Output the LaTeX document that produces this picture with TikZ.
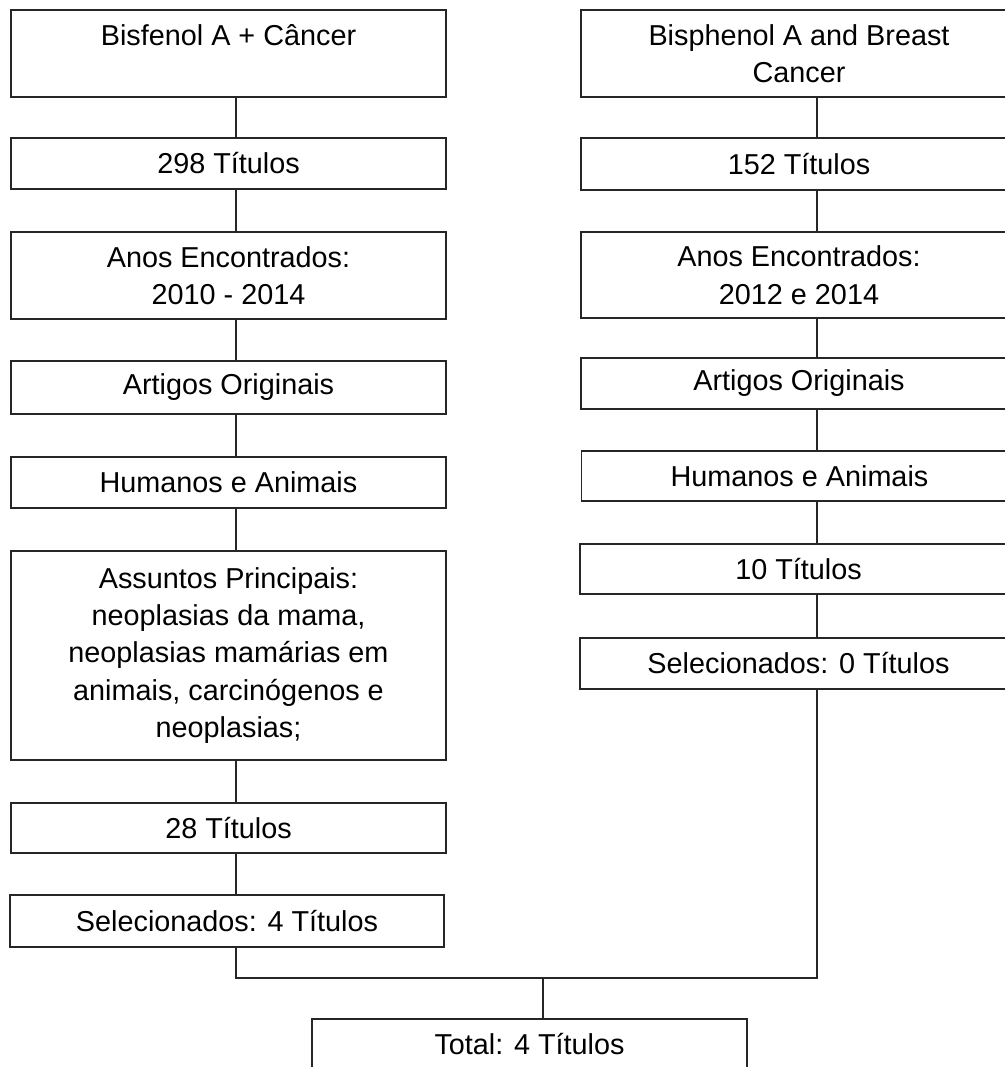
\documentclass[tikz,border=0pt]{standalone}
\usepackage{fontspec}
\setmainfont{Liberation Sans}

\tikzset{
  caixa/.style={draw=black!85, line width=1.3pt, rectangle, fill=white,
    align=center, inner sep=0pt, minimum width=326pt,
    font=\fontsize{21.6}{28.1}\selectfont},
  ligacao/.style={draw=black!85, line width=1.3pt},
}

\begin{document}
\begin{tikzpicture}[x=0.75pt, y=-0.75pt]

% =============================================
% AREA DA FIGURA (a caixa final sai pela borda)
% =============================================
\useasboundingbox (0,0) rectangle (1005,1067);
\clip (0,0) rectangle (1005,1067);
\fill[white] (0,0) rectangle (1005,1067);

% =============================================
% COLUNA ESQUERDA: Bisfenol A + Cancer
% =============================================
\node[caixa, minimum height=65.25pt] (esq1) at (228.5,53.5) {Bisfenol A + Câncer\\ \mbox{}};
\node[caixa, minimum height=38.25pt] (esq2) at (228.5,163.5) {298 Títulos};
\node[caixa, minimum height=65.25pt] (esq3) at (228.5,275.5) {Anos Encontrados:\\ 2010 - 2014};
\node[caixa, minimum height=39.75pt] (esq4) at (228.5,387.5) {Artigos Originais};
\node[caixa, minimum height=38.25pt] (esq5) at (228.5,482.5) {Humanos e Animais};
\node[caixa, minimum height=156.75pt] (esq6) at (228.5,655.5) {Assuntos Principais:\\ neoplasias da mama,\\ neoplasias mamárias em\\ animais, carcinógenos e\\ neoplasias;};
\node[caixa, minimum height=37.5pt] (esq7) at (228.5,828) {28 Títulos};
\node[caixa, minimum height=39pt] (esq8) at (227,921) {Selecionados: 4 Títulos};

% ligacoes da esquerda (um pouco a direita do centro)
\draw[ligacao] ([xshift=5.6pt]esq1.south) -- ([xshift=5.6pt]esq1.south |- esq2.north);
\draw[ligacao] ([xshift=5.6pt]esq2.south) -- ([xshift=5.6pt]esq2.south |- esq3.north);
\draw[ligacao] ([xshift=5.6pt]esq3.south) -- ([xshift=5.6pt]esq3.south |- esq4.north);
\draw[ligacao] ([xshift=5.6pt]esq4.south) -- ([xshift=5.6pt]esq4.south |- esq5.north);
\draw[ligacao] ([xshift=5.6pt]esq5.south) -- ([xshift=5.6pt]esq5.south |- esq6.north);
\draw[ligacao] ([xshift=5.6pt]esq6.south) -- ([xshift=5.6pt]esq6.south |- esq7.north);
\draw[ligacao] ([xshift=5.6pt]esq7.south) -- ([xshift=5.6pt]esq7.south |- esq8.north);

% =============================================
% COLUNA DIREITA: Bisphenol A and Breast Cancer
% =============================================
\node[caixa, minimum width=327pt, minimum height=65.25pt] (dir1) at (799,53.5) {Bisphenol A and Breast\\ Cancer};
\node[caixa, minimum width=327pt, minimum height=39pt] (dir2) at (799,164) {152 Títulos};
\node[caixa, minimum width=327pt, minimum height=64.5pt] (dir3) at (799,275) {Anos Encontrados:\\ 2012 e 2014};
\node[caixa, minimum width=327pt, minimum height=38.25pt] (dir4) at (799,383.5) {Artigos Originais};
\node[caixa, minimum width=327pt, minimum height=37.5pt] (dir5) at (799.5,476) {Humanos e Animais};
\node[caixa, minimum width=328pt, minimum height=37.5pt] (dir6) at (798.5,569) {10 Títulos};
\node[caixa, minimum width=328pt, minimum height=38.25pt] (dir7) at (798.5,663.5) {Selecionados: 0 Títulos};

% ligacoes da direita
\draw[ligacao] ([xshift=13.5pt]dir1.south) -- ([xshift=13.5pt]dir1.south |- dir2.north);
\draw[ligacao] ([xshift=13.5pt]dir2.south) -- ([xshift=13.5pt]dir2.south |- dir3.north);
\draw[ligacao] ([xshift=13.5pt]dir3.south) -- ([xshift=13.5pt]dir3.south |- dir4.north);
\draw[ligacao] ([xshift=13.5pt]dir4.south) -- ([xshift=13.5pt]dir4.south |- dir5.north);
\draw[ligacao] ([xshift=13.5pt]dir4.south |- dir5.south) -- ([xshift=13.5pt]dir4.south |- dir6.north);
\draw[ligacao] ([xshift=13.5pt]dir4.south |- dir6.south) -- ([xshift=13.5pt]dir4.south |- dir7.north);

% =============================================
% JUNCAO -> TOTAL
% =============================================
\node[caixa, minimum height=65.25pt] (total) at (529.5,1062.5) {Total: 4 Títulos\\ \mbox{}};
\coordinate (juncao) at (543,978);

\draw[ligacao] ([xshift=5.6pt]esq7.south |- esq8.south) |- (juncao) -| ([xshift=13.5pt]dir4.south |- dir7.south);
\draw[ligacao] (juncao) -- (juncao |- total.north);

\end{tikzpicture}
\end{document}
